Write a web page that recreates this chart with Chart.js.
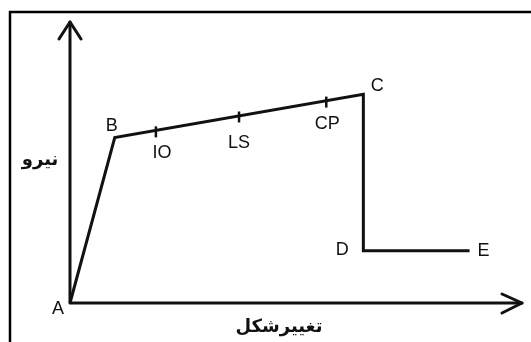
<!DOCTYPE html>
<html>
<head>
<meta charset="utf-8">
<script src="https://cdn.jsdelivr.net/npm/chart.js@4/dist/chart.umd.min.js"></script>
<style>
  html, body { margin: 0; padding: 0; background: #fff; }
  #wrap { width: 531px; height: 342px; }
</style>
</head>
<body>
<div id="wrap"><canvas id="myChart" width="531" height="342"></canvas></div>
<script>
// منحنی نیرو - تغییرشکل
const pointNames = ['A', 'B', 'C', 'D', 'E'];
const deformation = [0, 0.99, 6.49, 6.49, 8.84];
const force = [0, 5.89, 7.43, 1.86, 1.86];

// سطوح عملکرد
const levelNames = ['IO', 'LS', 'CP'];
const levelDeformation = [1.9, 3.74, 5.67];
const levelForce = [6.09, 6.62, 7.15];

const yTitle = 'نیرو';
const xTitle = 'تغییرشکل';

// label offsets in px (style only)
const nameOffsets = { A: [-12, 6], B: [-3, -11], C: [14, -8], D: [-21, -1], E: [14, 0] };
const levelOffsets = { IO: [6, 21], LS: [0, 26], CP: [1, 22] };

const curveData = deformation.map((x, i) => ({ x: x, y: force[i] }));
const levelData = levelDeformation.map((x, i) => ({ x: x, y: levelForce[i] }));

const frame = {
    id: 'frame',
    beforeDraw(chart) {
        const c = chart.ctx;
        c.save();
        c.fillStyle = '#fff';
        c.fillRect(0, 0, chart.width, chart.height);
        c.strokeStyle = '#000';
        c.lineWidth = 2.5;
        c.strokeRect(10, 12, chart.width + 20, chart.height + 20);
        c.restore();
    },
    afterDraw(chart) {
        const c = chart.ctx;
        const a = chart.chartArea;
        c.save();
        c.strokeStyle = '#111';
        c.lineWidth = 3;
        c.lineCap = 'round';
        c.lineJoin = 'round';
        // axes
        c.beginPath();
        c.moveTo(a.left, a.top);
        c.lineTo(a.left, a.bottom);
        c.lineTo(a.right, a.bottom);
        c.stroke();
        // arrow heads
        c.beginPath();
        c.moveTo(a.left - 11, a.top + 17);
        c.lineTo(a.left, a.top);
        c.lineTo(a.left + 11, a.top + 17);
        c.moveTo(a.right - 20, a.bottom - 9);
        c.lineTo(a.right, a.bottom);
        c.lineTo(a.right - 20, a.bottom + 10);
        c.stroke();

        const xs = chart.scales.x, ys = chart.scales.y;
        c.fillStyle = '#111';
        c.textAlign = 'center';
        c.textBaseline = 'middle';
        c.font = '18px "Liberation Sans", Arial, sans-serif';
        pointNames.forEach((n, i) => {
            const o = nameOffsets[n];
            c.fillText(n, xs.getPixelForValue(deformation[i]) + o[0], ys.getPixelForValue(force[i]) + o[1]);
        });
        levelNames.forEach((n, i) => {
            const o = levelOffsets[n];
            c.fillText(n, xs.getPixelForValue(levelDeformation[i]) + o[0], ys.getPixelForValue(levelForce[i]) + o[1]);
        });
        c.font = 'bold 18px "DejaVu Sans", sans-serif';
        c.direction = 'rtl';
        c.fillText(yTitle, 40, 160);
        c.fillText(xTitle, 279, 327);
        c.restore();
    }
};

const ctx = document.querySelector('#myChart');

new Chart(ctx, {
    type: 'scatter',
    data: {
        datasets: [
            {
                label: 'curve',
                data: curveData,
                showLine: true,
                borderColor: '#111',
                borderWidth: 3,
                pointRadius: 0,
                clip: false
            },
            {
                label: 'levels',
                data: levelData,
                showLine: false,
                pointStyle: 'line',
                rotation: 90,
                pointRadius: 5.5,
                borderColor: '#111',
                borderWidth: 2.5,
                clip: false
            }
        ]
    },
    options: {
        responsive: false,
        animation: false,
        layout: { padding: { left: 70, top: 22, right: 9, bottom: 39 } },
        plugins: { legend: { display: false }, tooltip: { enabled: false } },
        scales: {
            x: { type: 'linear', min: 0, max: 10, display: false },
            y: { type: 'linear', min: 0, max: 10, display: false }
        }
    },
    plugins: [frame]
});
</script>
</body>
</html>
